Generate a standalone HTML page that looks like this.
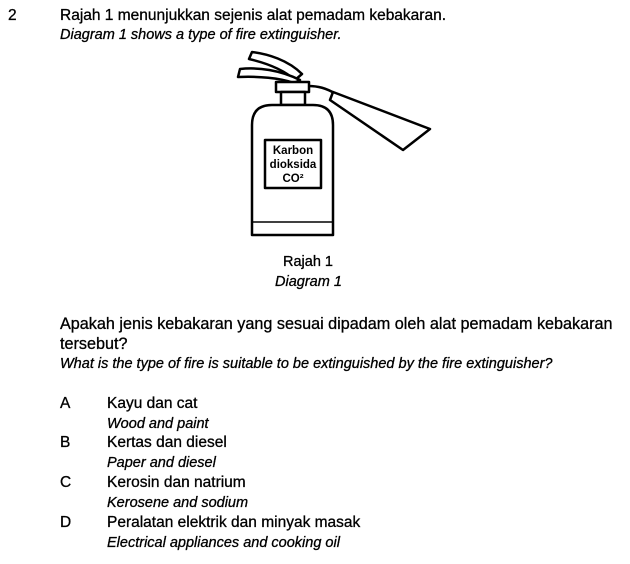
<!DOCTYPE html>
<html><head><meta charset="utf-8"><style>
body{margin:0;width:630px;height:564px;background:#fff;position:relative;overflow:hidden;font-family:"Liberation Sans",Arial,sans-serif;color:#000}
.t{position:absolute;white-space:nowrap;font-size:15.5px;line-height:18px;-webkit-text-stroke:0.3px #000}
.i{font-style:italic;font-size:14.5px}
</style></head><body>
<div class="t" style="left:8px;top:7px">2</div>
<div class="t" style="left:60px;top:7px">Rajah 1 menunjukkan sejenis alat pemadam kebakaran.</div>
<div class="t i" style="left:60px;top:26px">Diagram 1 shows a type of fire extinguisher.</div>

<svg style="position:absolute;left:0;top:0" width="630" height="564">
<g fill="#fff" stroke="#000" stroke-width="2.5" stroke-linejoin="round">
<path d="M302,74 C288,60 268,54 252,52 L249,59 C266,63 284,70 295,80 Z"/>
<path d="M300,80 C280,70 258,67 240,69 L238,77 C258,76 280,78 294,83 Z"/>
<path d="M308,86 C318,86 326,88 336,94" fill="none"/>
<path d="M333,92 L430,129 L403,150 L330,100 Z"/>
<rect x="276" y="82" width="33" height="10"/>
<rect x="281" y="92" width="24" height="13"/>
<path d="M252,235 L252,125 Q252,105 272,105 L313,105 Q333,105 333,125 L333,235 Z"/>
<line x1="252" y1="222" x2="333" y2="222" stroke-width="1.5"/>
<rect x="265" y="140" width="56" height="48"/>
</g>
<g font-family="Liberation Sans,Arial,sans-serif" font-weight="bold" font-size="11.5" text-anchor="middle">
<text x="293" y="154">Karbon</text>
<text x="293" y="168">dioksida</text>
<text x="293" y="182">CO²</text>
</g>
</svg>

<div class="t" style="left:283px;top:253px;font-size:14.5px">Rajah 1</div>
<div class="t i" style="left:275px;top:273px">Diagram 1</div>

<div class="t" style="left:60px;top:315px;font-size:16.2px">Apakah jenis kebakaran yang sesuai dipadam oleh alat pemadam kebakaran</div>
<div class="t" style="left:60px;top:335px;font-size:16.2px">tersebut?</div>
<div class="t i" style="left:60px;top:355px">What is the type of fire is suitable to be extinguished by the fire extinguisher?</div>

<div class="t" style="left:60px;top:395px">A</div>
<div class="t" style="left:107px;top:395px">Kayu dan cat</div>
<div class="t i" style="left:107px;top:415px">Wood and paint</div>
<div class="t" style="left:60px;top:434px">B</div>
<div class="t" style="left:107px;top:434px">Kertas dan diesel</div>
<div class="t i" style="left:107px;top:454px">Paper and diesel</div>
<div class="t" style="left:60px;top:474px">C</div>
<div class="t" style="left:107px;top:474px">Kerosin dan natrium</div>
<div class="t i" style="left:107px;top:494px">Kerosene and sodium</div>
<div class="t" style="left:60px;top:514px">D</div>
<div class="t" style="left:107px;top:514px">Peralatan elektrik dan minyak masak</div>
<div class="t i" style="left:107px;top:534px">Electrical appliances and cooking oil</div>
</body></html>
